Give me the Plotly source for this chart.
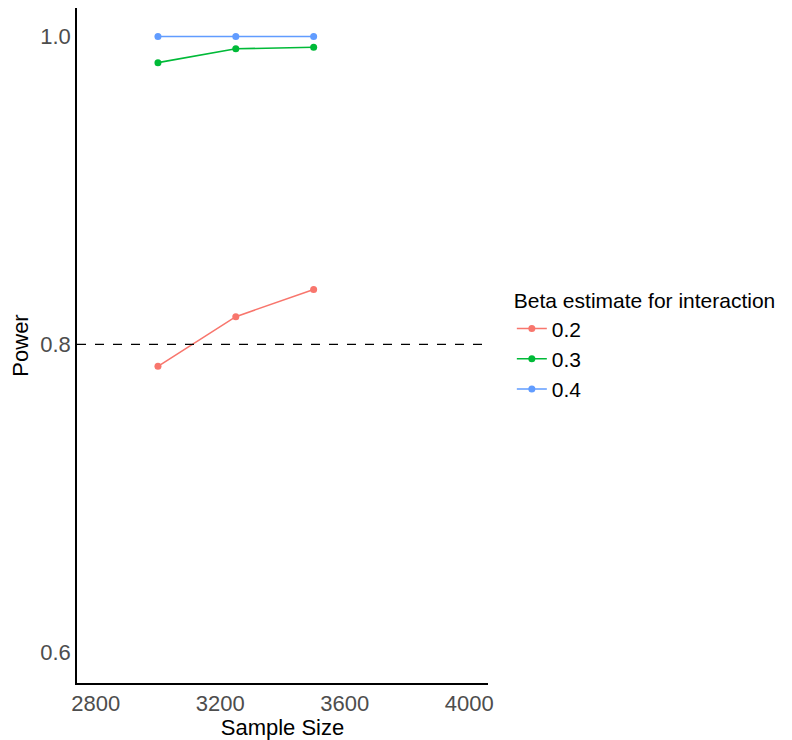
import plotly.graph_objects as go

sample_size = [3000, 3250, 3500]
beta_labels = ["0.2", "0.3", "0.4"]
power_02 = [0.7857, 0.8180, 0.8357]
power_03 = [0.9830, 0.9920, 0.9930]
power_04 = [1.0, 1.0, 1.0]
colors = ["#F8766D", "#00BA38", "#619CFF"]
x_ticks = [2800, 3200, 3600, 4000]
y_ticks = [0.6, 0.8, 1.0]
threshold = 0.8

series = [power_02, power_03, power_04]
font_family = "Liberation Sans, Arial, sans-serif"

fig = go.Figure()
for lab, vals, col in zip(beta_labels, series, colors):
    fig.add_trace(go.Scatter(
        x=sample_size, y=vals, name=lab, mode="lines+markers",
        line=dict(color=col, width=1.6),
        marker=dict(color=col, size=7),
    ))

fig.add_shape(type="line", xref="paper", x0=0, x1=1, yref="y",
              y0=threshold, y1=threshold,
              line=dict(color="black", width=1.4, dash="dash"))

fig.update_layout(
    width=784, height=732,
    margin=dict(l=69, r=304, t=0, b=57),
    plot_bgcolor="white", paper_bgcolor="white",
    font=dict(family=font_family, size=22, color="black"),
    legend=dict(
        title=dict(text="Beta estimate for interaction", font=dict(size=21, color="black")),
        x=1.058, y=0.5, xanchor="left", yanchor="middle",
        font=dict(size=21, color="black"),
        tracegroupgap=0, itemwidth=30,
    ),
    xaxis=dict(
        range=[2740, 4060], tickvals=x_ticks, ticktext=[str(v) for v in x_ticks],
        showgrid=False, zeroline=False, showline=True, linecolor="black", linewidth=1.5,
        ticks="", tickfont=dict(size=22, color="#4D4D4D"),
        title=dict(text="Sample Size", font=dict(size=22, color="black"), standoff=4),
    ),
    yaxis=dict(
        range=[0.58, 1.0185], tickvals=y_ticks, ticktext=["0.6", "0.8", "1.0"],
        showgrid=False, zeroline=False, showline=True, linecolor="black", linewidth=1.5,
        ticks="", tickfont=dict(size=22, color="#4D4D4D"),
        title=dict(text="Power", font=dict(size=22, color="black"), standoff=8),
    ),
)

fig.write_html("out.html")
